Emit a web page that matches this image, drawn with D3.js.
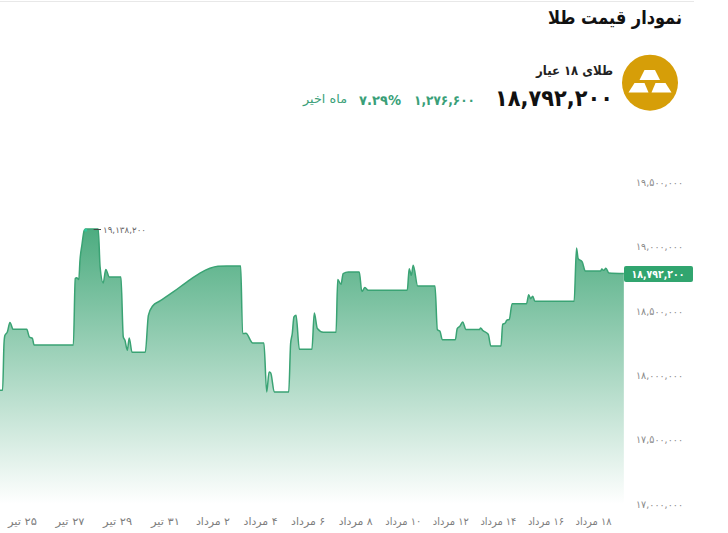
<!DOCTYPE html>
<html lang="fa">
<head>
<meta charset="utf-8">
<script src="https://cdn.jsdelivr.net/npm/d3@7/dist/d3.min.js"></script>
<style>
html,body{margin:0;padding:0;background:#fff;width:728px;height:533px;overflow:hidden}
svg{display:block;font-family:"DejaVu Sans",sans-serif}
</style>
</head>
<body>
<svg id="chart" width="728" height="533"></svg>
<script>
const titleText = "نمودار قیمت طلا";
const assetName = "طلای ۱۸ عیار";
const priceText = "۱۸,۷۹۲,۲۰۰";
const changeText = "۱,۲۷۶,۶۰۰";
const percentText = "۷.۲۹%";
const periodText = "ماه اخیر";
const peakValue = 19138.2;
const peakText = "۱۹,۱۳۸,۲۰۰";
const lastValue = 18792.2;
const lastText = "۱۸,۷۹۲,۲۰۰";

const yTickValues = [17000, 17500, 18000, 18500, 19000, 19500];
const yTickLabels = ["۱۷,۰۰۰,۰۰۰","۱۷,۵۰۰,۰۰۰","۱۸,۰۰۰,۰۰۰","۱۸,۵۰۰,۰۰۰","۱۹,۰۰۰,۰۰۰","۱۹,۵۰۰,۰۰۰"];
const xTickValues = [0.02,2.03,4.04,6.06,8.07,10.08,12.09,14.10,16.11,18.12,20.13,22.14,24.15];
const xTickLabels = ["۲۵ تیر","۲۷ تیر","۲۹ تیر","۳۱ تیر","۲ مرداد","۴ مرداد","۶ مرداد","۸ مرداد","۱۰ مرداد","۱۲ مرداد","۱۴ مرداد","۱۶ مرداد","۱۸ مرداد"];

// days since 25 Tir
const days = [-0.93,-0.82,-0.76,-0.72,-0.62,-0.51,-0.37,0.20,0.31,0.44,0.51,2.17,2.25,2.31,2.40,2.45,2.53,2.63,2.69,3.22,3.30,3.43,3.54,3.69,4.18,4.28,4.35,4.45,4.53,4.65,5.21,5.34,5.52,5.83,6.39,6.96,7.52,7.94,8.28,8.65,9.24,9.32,9.46,9.75,10.22,10.34,10.44,10.51,10.66,11.27,11.35,11.42,11.49,11.58,11.72,12.25,12.35,12.48,12.73,13.27,13.34,13.48,13.57,13.79,14.25,14.36,14.49,14.63,16.28,16.36,16.45,16.53,16.72,17.45,17.55,17.66,17.76,18.31,18.39,18.50,18.62,18.76,19.32,19.38,19.46,19.70,19.81,20.24,20.31,20.42,20.48,20.59,20.71,21.32,21.41,21.49,21.58,21.67,23.33,23.43,23.50,23.67,23.80,24.45,24.50,24.58,24.67,24.80,25.43];
// price, thousands
const prices = [17884,17884,18250,18312,18337,18411,18358,18358,18299,18288,18236,18236,18753,18760,18745,18895,19012,19128,19138,19138,18843,18719,18823,18765,18765,18299,18273,18195,18291,18180,18180,18467,18540,18579,18649,18726,18796,18833,18848,18851,18851,18325,18328,18252,18252,17871,18026,18019,17871,17871,18247,18325,18454,18467,18203,18203,18485,18364,18335,18335,18745,18708,18792,18804,18804,18652,18683,18662,18662,18830,18778,18856,18695,18695,18356,18343,18278,18278,18364,18382,18415,18356,18356,18369,18351,18320,18229,18229,18397,18407,18428,18436,18558,18558,18628,18597,18615,18576,18576,18991,18908,18882,18812,18812,18827,18817,18833,18796,18792.2];

const svg = d3.select("#chart");
const x = d3.scaleLinear().domain([0, 24]).range([22, 590]);
const y = d3.scaleLinear().domain([17000, 19500]).range([504, 182.5]);
const data = days.map((d, i) => ({d, v: prices[i]}));
const green = "#3aa374";

function fit(sel, w){ return sel.attr("textLength", w).attr("lengthAdjust","spacingAndGlyphs"); }

// top rule
svg.append("rect").attr("x",0).attr("y",1).attr("width",694).attr("height",1).attr("fill","#e8e8e8");

// header
fit(svg.append("text").attr("x",682).attr("y",24).attr("direction","rtl")
  .attr("font-size",19).attr("font-weight",700).attr("fill","#111").text(titleText), 134);
fit(svg.append("text").attr("x",613).attr("y",75).attr("direction","rtl").attr("font-size",13).attr("font-weight",700).attr("fill","#222").text(assetName), 77);
fit(svg.append("text").attr("x",495).attr("y",106).attr("font-size",23).attr("font-weight",700).attr("fill","#111").text(priceText), 118);
fit(svg.append("text").attr("x",414).attr("y",105).attr("font-size",13.5).attr("font-weight",700).attr("fill","#3a9f78").text(changeText), 61);
fit(svg.append("text").attr("x",359).attr("y",105).attr("font-size",13.5).attr("font-weight",700).attr("fill","#3a9f78").text(percentText), 42);
fit(svg.append("text").attr("x",347).attr("y",103).attr("direction","rtl").attr("font-size",12).attr("fill","#3a9f78").text(periodText), 44);

// gold icon
const icon = svg.append("g");
icon.append("circle").attr("cx",650).attr("cy",82.7).attr("r",28).attr("fill","#d69e08");
[[[644.5,70],[655,70],[660,80],[639.5,80]],
 [[634.5,83],[644.5,83],[648.5,92.5],[628.5,92.5]],
 [[655.5,83],[665.5,83],[671.5,92.5],[651.5,92.5]]].forEach(p => {
  icon.append("polygon").attr("points",p.join(" ")).attr("fill","#fff");
});

// gradient
const defs = svg.append("defs");
const grad = defs.append("linearGradient").attr("id","areaFill").attr("gradientUnits","userSpaceOnUse")
  .attr("x1",0).attr("x2",0).attr("y1",y(peakValue)).attr("y2",y(17000));
grad.append("stop").attr("offset",0).attr("stop-color","#4dac80");
grad.append("stop").attr("offset",1).attr("stop-color","#ffffff");

const curve = d3.curveMonotoneX;
const area = d3.area().x(d => x(d.d)).y0(y(17000)).y1(d => y(d.v)).curve(curve);
const line = d3.line().x(d => x(d.d)).y(d => y(d.v)).curve(curve);
svg.append("path").datum(data).attr("d",area).attr("fill","url(#areaFill)");
svg.append("path").datum(data).attr("d",line).attr("fill","none").attr("stroke",green).attr("stroke-width",1.5);

// y axis labels
const yLabels = svg.append("g").selectAll("text").data(yTickValues).join("text")
  .attr("x",636).attr("y",d => y(d)+3.5).attr("font-size",10).attr("fill","#8a8a8a")
  .text((d,i) => yTickLabels[i]);
fit(yLabels, 47);

// x axis labels
svg.append("g").selectAll("text").data(xTickValues).join("text")
  .attr("x",d => x(d)).attr("y",525).attr("text-anchor","middle").attr("direction","rtl")
  .attr("font-size",10.5).attr("fill","#7d7d7d")
  .attr("lengthAdjust","spacingAndGlyphs")
  .attr("textLength",(d,i) => xTickLabels[i].includes("تیر") ? 29 : (xTickLabels[i].length > 7 ? 36 : 34))
  .text((d,i) => xTickLabels[i]);

// last value tag
const tagY = y(lastValue) + 0.5;
svg.append("rect").attr("x",624).attr("y",tagY-8).attr("width",69).attr("height",16).attr("rx",2).attr("fill","#31a56f");
fit(svg.append("text").attr("x",631.5).attr("y",tagY+4).attr("font-size",11).attr("font-weight",700).attr("fill","#fff").text(lastText), 53);

// peak marker
const peakX = x(2.69), peakY = y(peakValue);
svg.append("circle").attr("cx",peakX).attr("cy",peakY+1).attr("r",1.6).attr("fill","#2fc79a");
svg.append("line").attr("x1",peakX+8).attr("x2",101).attr("y1",peakY+0.5).attr("y2",peakY+0.5).attr("stroke","#444").attr("stroke-width",1);
fit(svg.append("text").attr("x",103).attr("y",peakY+3.5).attr("font-size",9).attr("fill","#666").text(peakText), 43);
</script>
</body>
</html>
